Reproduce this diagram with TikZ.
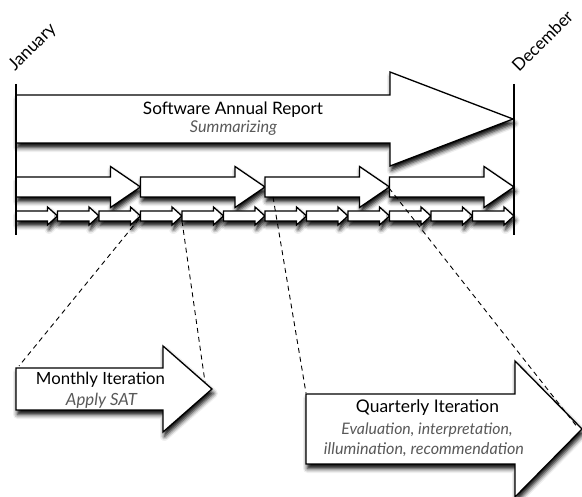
\documentclass[tikz,border=0pt]{standalone}
\usepackage{fontspec}
\setmainfont{Lato}
\usetikzlibrary{shadows.blur}

\tikzset{
  block/.style={draw=black, line width=1.3pt, fill=white, line join=miter,
    blur shadow={shadow xshift=1.5pt, shadow yshift=-4.5pt,
                 shadow blur radius=4.5pt, shadow opacity=100}},
  boundary/.style={draw=black, line width=1.3pt},
  zoomline/.style={draw=black, line width=0.9pt, dash pattern=on 5pt off 4pt},
  title/.style={inner sep=0pt, anchor=base},
  subtitle/.style={font=\itshape, text=black!65, inner sep=0pt, anchor=base},
  monthlabel/.style={inner sep=0pt, anchor=base west, rotate=45},
}

% text set to a given width
\newcommand\fitw[2]{\resizebox{#1pt}{!}{#2}}

% block arrow: x start, x tip, y centre, body half height, head half height, head length
\newcommand\fatarrow[6]{%
  \draw[block] ({#1},{#3-#4}) -- ({#2-#6},{#3-#4}) -- ({#2-#6},{#3-#5})
    -- ({#2},{#3}) -- ({#2-#6},{#3+#5}) -- ({#2-#6},{#3+#4})
    -- ({#1},{#3+#4}) -- cycle;}

\begin{document}
\begin{tikzpicture}[x=1pt, y=-1pt]
\useasboundingbox (0,0) rectangle (582,497);

% annual arrow
\fatarrow{16}{513}{119}{24}{47}{123}
\node[title] (annual) at (233,115) {\fitw{180}{Software Annual Report}};
\node[subtitle] (annualsub) at (233.5,133) {\fitw{87}{Summarizing}};

% quarters
\foreach \i in {0,...,3}{
  \pgfmathsetmacro\xa{16+124.5*\i}
  \pgfmathsetmacro\xb{\xa+124.5}
  \fatarrow{\xa}{\xb}{187}{10}{20.5}{30}
}

% months
\foreach \i in {0,...,11}{
  \pgfmathsetmacro\xa{16+41.5*\i}
  \pgfmathsetmacro\xb{\xa+41.5}
  \fatarrow{\xa}{\xb}{216}{5}{9}{10}
}

% year boundaries
\coordinate (janTop) at (16,84);
\coordinate (janBot) at (16,235);
\coordinate (decTop) at (514,84);
\coordinate (decBot) at (514,235);
\draw[boundary] (janTop) -- (janBot);
\draw[boundary] (decTop) -- (decBot);
\node[monthlabel] (jan) at (15,72) {\fitw{59}{January}};
\node[monthlabel] (dec) at (519,73) {\fitw{78}{December}};

% monthly iteration detail
\fatarrow{16}{212}{389}{21}{43}{49}
\node[title] (monthly) at (100.5,385) {\fitw{129}{Monthly Iteration}};
\node[subtitle] (monthlysub) at (101.5,406) {\fitw{71}{Apply SAT}};

% quarterly iteration detail
\fatarrow{306}{582}{429}{35}{68}{67}
\node[title] (quarterly) at (427.5,413) {\fitw{143}{Quarterly Iteration}};
\node[subtitle] (quarterlysub1) at (427,435) {\fitw{171}{Evaluation, interpretation,}};
\node[subtitle] (quarterlysub2) at (424,455) {\fitw{200}{illumination, recommendation}};

% zoom guides
\coordinate (m4) at (139,219);
\coordinate (m5) at (182,221);
\coordinate (q3) at (273,197);
\coordinate (q4) at (389,188);
\coordinate (mA) at (19,366);
\coordinate (mB) at (205,382);
\coordinate (qA) at (306,393);
\coordinate (qB) at (578,428);
\draw[zoomline] (m4) -- (mA);
\draw[zoomline] (m5) -- (mB);
\draw[zoomline] (q3) -- (qA);
\draw[zoomline] (q4) -- (qB);
\end{tikzpicture}
\end{document}
